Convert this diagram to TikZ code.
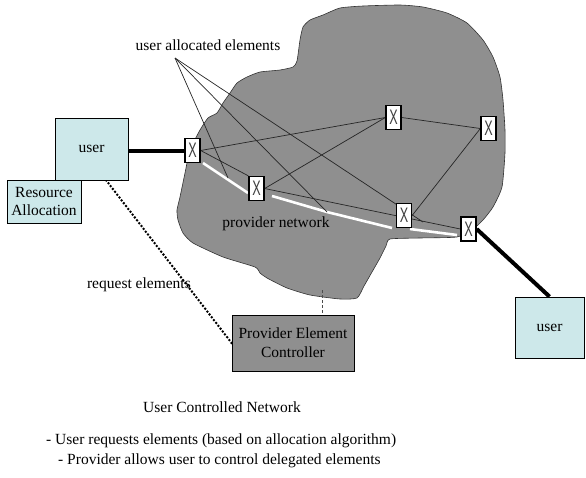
\documentclass[tikz,border=0pt]{standalone}
\usepackage{fontspec}
\setmainfont{Liberation Serif}
\newfontfamily\xfont{Liberation Sans}
\usetikzlibrary{backgrounds,calc}
\definecolor{ucyan}{HTML}{CDE8EA}
\definecolor{cloudgray}{HTML}{8F8F8F}
\tikzset{
  lbl/.style={font=\fontsize{15.5}{18}\selectfont, inner sep=0pt},
  xbox/.style={draw, line width=1.3pt, fill=white, minimum width=15pt, minimum height=24pt, inner sep=0pt,
    font=\xfont\fontsize{21}{21}\selectfont, text=black!75},
  userbox/.style={draw, line width=0.8pt, fill=ucyan, inner sep=0pt, align=center,
    font=\fontsize{15.5}{18}\selectfont},
  provbox/.style={draw, line width=0.8pt, fill=cloudgray, inner sep=0pt, align=center,
    font=\fontsize{15.5}{19}\selectfont},
  link/.style={line width=0.7pt, draw=black!85},
  alloc/.style={draw=white, line width=2.6pt},
  fat/.style={line width=4pt},
  dots/.style={line width=2.8pt, line cap=round, dash pattern=on 0pt off 3.6pt},
  cloud/.style={fill=cloudgray, draw=black!80, line width=0.6pt},
}
\newcommand{\xglyph}{\scalebox{0.6}[1]{X}}
\begin{document}
\begin{tikzpicture}[x=1pt, y=-1pt]
\useasboundingbox (0,0) rectangle (586,477);

% element nodes
\node[xbox] (X1) at (192.5,150.5) {\xglyph};
\node[xbox] (X2) at (256.5,188.5) {\xglyph};
\node[xbox] (X3) at (393.5,117.5) {\xglyph};
\node[xbox] (X4) at (488.5,128.5) {\xglyph};
\node[xbox] (X5) at (404,215.5) {\xglyph};
\node[xbox] (X6) at (468.5,229) {\xglyph};

% user boxes
\node[userbox, minimum width=73pt, minimum height=62pt] (Luser) at (91.5,149) {user};
\node[userbox, minimum width=74pt, minimum height=43pt] (RA) at (44,201.5) {Resource\\Allocation};
\node[userbox, minimum width=69pt, minimum height=61pt] (Ruser) at (549.5,327.5) {user};

% provider controller
\node[provbox, minimum width=122pt, minimum height=56pt] (Prov) at (293,343) {Provider Element\\Controller};

% labels
\node[lbl] (alloclbl) at (208,45) {user allocated elements};
\node[lbl] (pnet) at (276,224) {provider network};
\node[lbl, anchor=east] (req) at (191,285) {request elements};
\node[lbl] (title) at (222,407) {User Controlled Network};
\node[lbl, anchor=west] (l1) at (46,441) {- User requests elements (based on allocation algorithm)};
\node[lbl, anchor=west] (l2) at (58,461) {- Provider allows user to control delegated elements};

\coordinate (apex) at (175,58);
\coordinate (pb) at (228,178);
\coordinate (pc) at (327,212);
\coordinate (pd) at (423,222);
\coordinate (pn) at (322,290);
\coordinate (w1) at (203,163);
\coordinate (w2) at (248,193);
\coordinate (w3) at (272,196);
\coordinate (w5) at (392,228);
\coordinate (w6) at (410,229);
\coordinate (w7) at (457,235);

\begin{scope}[on background layer]
  \draw[cloud] plot[smooth cycle, tension=0.35] coordinates {
    (280,70) (293,67) (297,61) (300,40) (303,27) (310,20) (323,15) (340,8) (363,6) (400,5)
    (423,7) (447,13) (467,23) (483,40) (493,57) (500,77) (503,100) (505,130) (505,153)
    (502,187) (493,207) (483,220) (472,230) (457,237) (420,238) (390,239) (386,246) (380,258)
    (372,272) (364,286) (357,298) (340,299) (310,295) (287,288) (267,278) (260,273)
    (255,267) (223,257) (193,243) (183,233) (178,220) (177,210) (180,197) (185,173)
    (190,150) (200,130) (208,118) (217,113) (223,103) (230,93) (237,83) (247,77)
    (260,72)};
  % network links
  \draw[link] (X1.east) -- (X3.west);
  \draw[link] (X1.east) -- (X2.north west);
  \draw[link] (X2.east) -- (X3.west);
  \draw[link] (X3.east) -- (X4.west);
  \draw[link] (X4.west) -- (X5.east);
  \draw[link] (X2.east) -- (X6.west);
  % allocated path
  \draw[alloc] (w1) -- (w2);
  \draw[alloc] (w3) -- (pc) -- (w5);
  \draw[alloc] (w6) -- (w7);
  % pointer lines
  \draw[link] (apex) -- (pb);
  \draw[link] (apex) -- (pc);
  \draw[link] (apex) -- (pd);
  % thick user links
  \draw[fat] (Luser.east |- X1.west) -- (X1.west);
  \draw[fat] (X6.east) -- (Ruser.north);
  % dotted request
  \draw[dots] ($(Luser.south west)!0.7!(Luser.south east)$) -- (Prov.west);
  % dashed controller link
  \draw[draw=black!70, line width=0.5pt, dash pattern=on 3pt off 2pt] (pn) -- (pn |- Prov.north);
\end{scope}
\end{tikzpicture}
\end{document}
